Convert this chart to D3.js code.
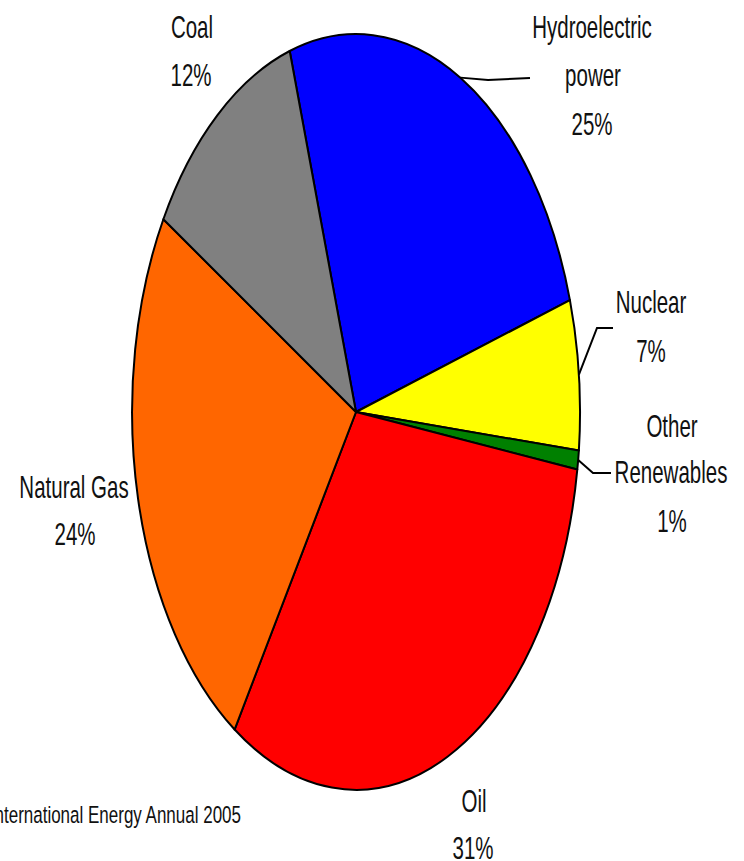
<!DOCTYPE html>
<html>
<head>
<meta charset="utf-8">
<script src="https://cdn.jsdelivr.net/npm/d3@7"></script>
<style>
  body { margin: 0; background: #fff; }
  svg { display: block; }
  text { font-family: "Liberation Sans", Arial, sans-serif; fill: #111; }
</style>
</head>
<body>
<div id="chart"></div>
<script>
// slice data, clockwise from the top
var sources = ["Hydroelectric power", "Nuclear", "Other Renewables", "Oil", "Natural Gas", "Coal"];
var shares = [25.0, 6.4, 0.8, 31.7, 24.4, 11.7];
var shareLabels = ["25%", "7%", "1%", "31%", "24%", "12%"];
var colors = ["#0000ff", "#ffff00", "#008000", "#ff0000", "#ff6600", "#808080"];
var sourceNote = "International Energy Annual 2005";

var width = 744, height = 861,
    cx = 356, cy = 412,
    rx = 224, ry = 378,   // the pie is stretched into an ellipse
    yStretch = 1.57;

var svg = d3.select("#chart")
  .append("svg")
    .attr("width", width)
    .attr("height", height);

var pie = d3.pie()
    .sort(null)
    .startAngle(-17.2 * Math.PI / 180)
    .endAngle(2 * Math.PI - 17.2 * Math.PI / 180)
    .value(function(d) { return d; });

var arc = d3.arc()
    .innerRadius(0)
    .outerRadius(1);

var arcs = pie(shares);

svg.append("g")
    .attr("transform", "translate(" + cx + "," + cy + ") scale(" + rx + "," + ry + ")")
  .selectAll("path")
    .data(arcs)
  .enter().append("path")
    .attr("d", arc)
    .attr("fill", function(d, i) { return colors[i]; })
    .attr("stroke", "#000")
    .attr("stroke-width", 2)
    .attr("stroke-linejoin", "round")
    .attr("vector-effect", "non-scaling-stroke");

// point on the ellipse edge for a given pie angle
function edge(a) {
  return [cx + Math.sin(a) * rx, cy - Math.cos(a) * ry];
}

// leader lines for the labels on the right (start at slice middle)
var line = d3.line();
var leaders = [
  {slice: 0, pts: [[488, 80], [530, 78]]},
  {slice: 1, pts: [[597, 328], [613, 328]]},
  {slice: 2, pts: [[593, 473], [611, 473]]}
];

leaders.forEach(function(l) {
  var a = arcs[l.slice];
  var p0 = edge((a.startAngle + a.endAngle) / 2);
  svg.append("path")
      .attr("d", line([p0].concat(l.pts)))
      .attr("fill", "none")
      .attr("stroke", "#000")
      .attr("stroke-width", 2);
});

// label lines: [text, x, baseline]
var labelLines = [
  [["Hydroelectric", 592, 38], ["power", 593, 86], [shareLabels[0], 592, 135]],
  [["Nuclear", 651, 313], [shareLabels[1], 651, 362]],
  [["Other", 672, 437], ["Renewables", 671, 483], [shareLabels[2], 672, 532]],
  [["Oil", 474, 812], [shareLabels[3], 473, 859]],
  [["Natural Gas", 74, 498], [shareLabels[4], 75, 545]],
  [["Coal", 192, 38], [shareLabels[5], 191, 86]]
];

labelLines.forEach(function(rows) {
  rows.forEach(function(r) {
    svg.append("text")
        .attr("transform", "translate(" + r[1] + "," + r[2] + ") scale(1," + yStretch + ")")
        .attr("text-anchor", "middle")
        .attr("font-size", 20.5)
        .text(r[0]);
  });
});

svg.append("text")
    .attr("transform", "translate(241,823) scale(1,1.42)")
    .attr("text-anchor", "end")
    .attr("font-size", 17)
    .text(sourceNote);
</script>
</body>
</html>
